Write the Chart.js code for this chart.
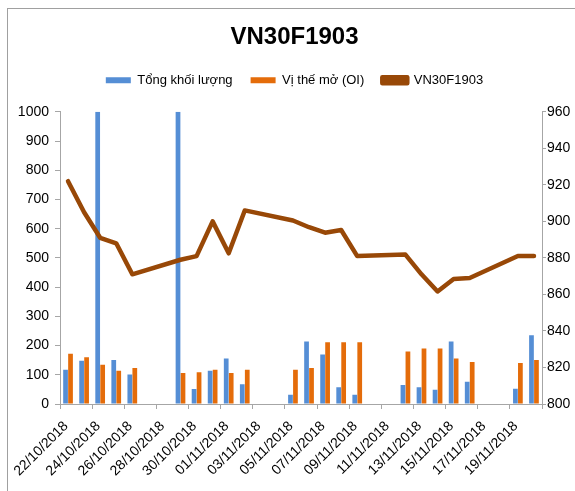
<!DOCTYPE html>
<html>
<head>
<meta charset="utf-8">
<script src="https://cdn.jsdelivr.net/npm/chart.js@4"></script>
<style>
html,body{margin:0;padding:0;background:#fff;}
#wrap{width:575px;height:491px;position:relative;}
</style>
</head>
<body>
<div id="wrap"><canvas id="c" width="575" height="491"></canvas></div>
<script>
const categories = ["22/10/2018","23/10/2018","24/10/2018","25/10/2018","26/10/2018","27/10/2018","28/10/2018","29/10/2018","30/10/2018","31/10/2018","01/11/2018","02/11/2018","03/11/2018","04/11/2018","05/11/2018","06/11/2018","07/11/2018","08/11/2018","09/11/2018","10/11/2018","11/11/2018","12/11/2018","13/11/2018","14/11/2018","15/11/2018","16/11/2018","17/11/2018","18/11/2018","19/11/2018","20/11/2018"];
const volume = [117,148,1000,151,101,null,null,1000,51,114,156,68,null,null,32,214,169,57,32,null,null,65,57,49,214,76,null,null,52,235];
const openInterest = [172,160,134,114,123,null,null,106,109,117,106,117,null,null,117,123,211,211,211,null,null,180,190,190,156,144,null,null,140,151];
const price = [922,905,891,888,871,null,null,879,881,900,882.5,906,null,null,900.5,896.8,893.8,895.3,881,null,null,881.8,871,861.6,868.5,869,null,null,881,881];
const leftTicks = [0,100,200,300,400,500,600,700,800,900,1000];
const rightTicks = [800,820,840,860,880,900,920,940,960];

const FONT = "'Liberation Sans', Arial, sans-serif";
const AXIS = '#a6a6a6';

const frame = {
  id:'frame',
  beforeDraw(chart){
    const c = chart.ctx;
    c.save();
    c.fillStyle = '#fff';
    c.fillRect(0,0,chart.width,chart.height);
    c.strokeStyle = '#a0a0a0';
    c.lineWidth = 1;
    c.strokeRect(7.5,8.5,800,800);
    c.restore();
  }
};
const legendSpace = {
  id:'legendSpace',
  beforeInit(chart){
    const fit = chart.legend.fit;
    chart.legend.fit = function(){ fit.bind(chart.legend)(); this.height += 15; };
  }
};

new Chart(document.getElementById('c'), {
  data: {
    labels: categories,
    datasets: [
      {type:'bar', label:'Tổng khối lượng', data: volume, backgroundColor:'#558ED5', yAxisID:'y', order:1,
       categoryPercentage:0.62, barPercentage:0.95},
      {type:'bar', label:'Vị thế mở (OI)', data: openInterest, backgroundColor:'#E46C0A', yAxisID:'y', order:1,
       categoryPercentage:0.62, barPercentage:0.95},
      {type:'line', label:'VN30F1903', data: price, borderColor:'#984807', backgroundColor:'#984807', yAxisID:'y1', order:0,
       borderWidth:4.5, pointRadius:0, tension:0, spanGaps:true, borderJoinStyle:'round', borderCapStyle:'round'}
    ]
  },
  options: {
    responsive:false,
    animation:false,
    layout:{padding:{left:14,right:0,top:0,bottom:0}},
    plugins:{
      title:{display:true, text:'VN30F1903', color:'#000', font:{family:FONT, size:24, weight:'bold'}, padding:{top:23,bottom:4}},
      legend:{position:'top', labels:{boxWidth:25, boxHeight:6, color:'#000', font:{family:FONT,size:13}, padding:18,
        sort:(a,b)=>a.datasetIndex-b.datasetIndex}},
      tooltip:{enabled:false}
    },
    scales:{
      x:{
        offset:true,
        grid:{display:true, drawOnChartArea:false, drawTicks:true, tickLength:5, offset:true,
          color:(ctx)=>((ctx.index===undefined || ctx.index%2===0) ? AXIS : 'rgba(0,0,0,0)')},
        border:{display:true,color:AXIS},
        ticks:{autoSkip:false, minRotation:45, maxRotation:45, color:'#000', font:{family:FONT,size:14}, padding:9, labelOffset:-2,
          callback:function(v,i){ return i%2===0 ? this.getLabelForValue(v) : ''; }},
        afterFit:(s)=>{ s.height = 87; }
      },
      y:{
        position:'left', min:0, max:1000,
        afterBuildTicks:(s)=>{ s.ticks = leftTicks.map(v=>({value:v})); },
        grid:{drawOnChartArea:false, tickLength:5, color:AXIS},
        border:{display:true,color:AXIS},
        ticks:{color:'#000', font:{family:FONT,size:14}, padding:6, callback:(v)=>String(v)},
        afterFit:(s)=>{ s.width = 46; }
      },
      y1:{
        position:'right', min:800, max:960,
        afterBuildTicks:(s)=>{ s.ticks = rightTicks.map(v=>({value:v})); },
        grid:{drawOnChartArea:false, tickLength:4, color:AXIS},
        border:{display:true,color:AXIS},
        ticks:{color:'#000', font:{family:FONT,size:14}, padding:1, callback:(v)=>String(v)},
        afterFit:(s)=>{ s.width = 33; }
      }
    }
  },
  plugins:[frame, legendSpace]
});
</script>
</body>
</html>
